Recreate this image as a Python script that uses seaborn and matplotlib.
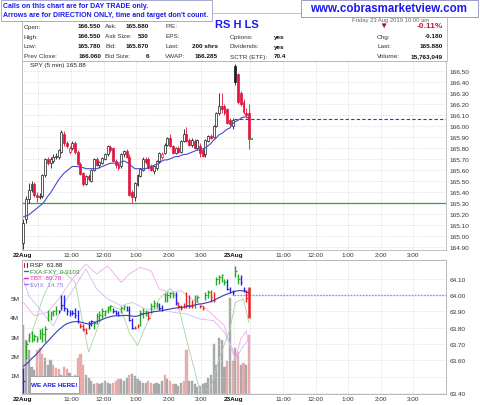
import numpy as np
import pandas as pd
import seaborn as sns
import matplotlib.pyplot as plt
from matplotlib.patches import Rectangle

sns.set_style("white")
plt.rcParams['font.family'] = ['Liberation Sans', 'DejaVu Sans']

# SPY 5 min candles: 22 Aug full session (78 bars) + first 6 bars of 23 Aug
spy_open = [164.93, 165.15, 165.33, 165.42, 165.47, 165.37, 165.35, 165.36, 165.55, 165.70,
            165.66, 165.68, 165.72, 165.72, 165.76, 165.93, 165.84, 165.76, 165.80, 165.84,
            165.76, 165.65, 165.57, 165.47, 165.54, 165.50, 165.60, 165.70, 165.64, 165.66,
            165.70, 165.74, 165.81, 165.80, 165.68, 165.65, 165.63, 165.74, 165.77, 165.72,
            165.40, 165.35, 165.46, 165.54, 165.60, 165.70, 165.70, 165.63, 165.59, 165.62,
            165.68, 165.72, 165.75, 165.83, 165.89, 165.82, 165.75, 165.80, 165.76, 165.86,
            165.93, 165.87, 165.83, 165.86, 165.80, 165.82, 165.78, 165.74, 165.86, 165.91,
            165.90, 166.00, 166.12, 166.18, 166.18, 166.15, 166.05, 166.00,
            166.54, 166.47, 166.30, 166.22, 166.12, 166.12]
spy_high = [165.15, 165.36, 165.48, 165.50, 165.49, 165.40, 165.39, 165.56, 165.71, 165.72,
            165.72, 165.74, 165.75, 165.79, 165.96, 165.95, 165.86, 165.82, 165.86, 165.86,
            165.78, 165.67, 165.58, 165.55, 165.56, 165.61, 165.71, 165.72, 165.68, 165.72,
            165.75, 165.83, 165.83, 165.81, 165.70, 165.66, 165.75, 165.78, 165.79, 165.74,
            165.42, 165.49, 165.56, 165.62, 165.72, 165.72, 165.72, 165.65, 165.64, 165.69,
            165.76, 165.76, 165.84, 165.90, 165.93, 165.83, 165.81, 165.82, 165.87, 165.97,
            165.99, 165.89, 165.89, 165.88, 165.88, 165.84, 165.80, 165.88, 165.92, 165.93,
            166.01, 166.13, 166.30, 166.30, 166.20, 166.16, 166.07, 166.07,
            166.56, 166.48, 166.32, 166.24, 166.16, 166.20]
spy_low = [164.88, 165.12, 165.30, 165.40, 165.35, 165.31, 165.33, 165.34, 165.53, 165.64,
           165.62, 165.66, 165.70, 165.70, 165.75, 165.82, 165.80, 165.74, 165.78, 165.74,
           165.64, 165.55, 165.45, 165.46, 165.50, 165.49, 165.59, 165.63, 165.62, 165.65,
           165.69, 165.73, 165.76, 165.67, 165.62, 165.60, 165.62, 165.72, 165.71, 165.36,
           165.30, 165.32, 165.45, 165.53, 165.59, 165.65, 165.61, 165.59, 165.56, 165.60,
           165.66, 165.70, 165.74, 165.82, 165.81, 165.74, 165.74, 165.75, 165.75, 165.85,
           165.85, 165.82, 165.81, 165.79, 165.78, 165.72, 165.72, 165.72, 165.85, 165.88,
           165.89, 165.99, 166.10, 166.12, 166.10, 166.02, 165.99, 165.97,
           166.37, 166.20, 166.18, 166.11, 166.07, 165.79]
spy_close = [165.12, 165.33, 165.42, 165.47, 165.37, 165.35, 165.36, 165.55, 165.70, 165.66,
             165.70, 165.72, 165.73, 165.78, 165.94, 165.84, 165.82, 165.80, 165.84, 165.76,
             165.65, 165.56, 165.47, 165.54, 165.52, 165.60, 165.70, 165.64, 165.67, 165.71,
             165.74, 165.82, 165.78, 165.68, 165.64, 165.62, 165.74, 165.77, 165.72, 165.37,
             165.35, 165.48, 165.55, 165.61, 165.70, 165.67, 165.62, 165.60, 165.63, 165.68,
             165.75, 165.74, 165.83, 165.89, 165.82, 165.75, 165.80, 165.76, 165.86, 165.93,
             165.86, 165.83, 165.87, 165.80, 165.87, 165.75, 165.73, 165.87, 165.91, 165.89,
             166.00, 166.12, 166.18, 166.15, 166.12, 166.03, 166.02, 166.05,
             166.40, 166.22, 166.20, 166.13, 166.10, 165.88]
spy_ma = [165.17, 165.18, 165.19, 165.21, 165.23, 165.25, 165.27, 165.29, 165.32, 165.36,
          165.39, 165.43, 165.47, 165.51, 165.54, 165.57, 165.59, 165.61, 165.63, 165.63,
          165.63, 165.62, 165.62, 165.61, 165.61, 165.61, 165.61, 165.61, 165.62, 165.63,
          165.64, 165.65, 165.66, 165.66, 165.66, 165.66, 165.67, 165.68, 165.67, 165.65,
          165.63, 165.61, 165.61, 165.61, 165.61, 165.61, 165.62, 165.63, 165.64, 165.65,
          165.66, 165.68, 165.69, 165.69, 165.70, 165.71, 165.72, 165.72, 165.73, 165.74,
          165.74, 165.75, 165.76, 165.77, 165.78, 165.78, 165.79, 165.80, 165.82, 165.84,
          165.87, 165.89, 165.92, 165.93, 165.95, 165.97, 165.98, 166.02,
          166.04, 166.05, 166.07, 166.08, 166.08, 166.07]
spy_support = 165.30
spy_prev_close = 166.06
spy_last = 165.88

# RSP HLC bars, impulse colour codes, moving average
rsp_high = [63.55, 63.72, 63.77, 63.78, 63.76, 63.75, 63.79, 63.80, 63.81, 63.91,
            63.90, 63.91, 63.93, 63.91, 64.00, 64.00, 63.92, 63.91, 63.91, 63.92,
            63.91, 63.83, 63.82, 63.80, 63.84, 63.85, 63.84, 63.89, 63.90, 63.92,
            63.91, 63.93, 63.94, 63.92, 63.91, 63.90, 63.93, 63.94, 63.93, 63.93,
            63.86, 63.81, 63.82, 63.91, 63.92, 63.91, 63.90, 63.95, 63.97, 63.96,
            63.95, 63.94, 64.01, 64.02, 64.02, 64.02, 64.02, 63.96, 63.94, 63.95,
            64.02, 64.00, 63.97, 64.00, 64.00, 63.94, 63.93, 64.02, 64.03, 64.03,
            64.02, 64.11, 64.12, 64.13, 64.10, 64.10, 64.05, 64.03,
            64.18, 64.13, 64.12, 64.05, 64.03, 64.05]
rsp_low = [63.40, 63.61, 63.71, 63.71, 63.72, 63.71, 63.73, 63.71, 63.71, 63.84,
           63.85, 63.87, 63.88, 63.89, 63.91, 63.90, 63.88, 63.87, 63.88, 63.86,
           63.83, 63.80, 63.78, 63.76, 63.79, 63.81, 63.79, 63.82, 63.84, 63.86,
           63.87, 63.89, 63.90, 63.89, 63.88, 63.87, 63.89, 63.91, 63.90, 63.84,
           63.79, 63.79, 63.80, 63.81, 63.86, 63.87, 63.85, 63.89, 63.92, 63.92,
           63.91, 63.90, 63.96, 63.96, 63.98, 63.98, 63.94, 63.92, 63.91, 63.92,
           63.92, 63.92, 63.92, 63.92, 63.96, 63.92, 63.91, 63.97, 63.98, 63.96,
           63.96, 64.06, 64.07, 64.08, 64.06, 64.03, 64.01, 64.00,
           64.11, 64.07, 64.06, 64.02, 63.96, 63.86]
rsp_close = [63.47, 63.70, 63.74, 63.73, 63.75, 63.73, 63.77, 63.76, 63.79, 63.88,
             63.89, 63.90, 63.91, 63.90, 63.94, 63.92, 63.90, 63.89, 63.89, 63.88,
             63.84, 63.81, 63.79, 63.77, 63.82, 63.84, 63.83, 63.87, 63.88, 63.90,
             63.90, 63.92, 63.93, 63.90, 63.89, 63.88, 63.92, 63.93, 63.91, 63.85,
             63.80, 63.80, 63.81, 63.89, 63.90, 63.90, 63.86, 63.93, 63.95, 63.94,
             63.92, 63.91, 64.00, 64.00, 64.01, 64.00, 63.95, 63.93, 63.92, 63.93,
             63.94, 63.93, 63.93, 63.98, 63.99, 63.93, 63.92, 64.00, 64.02, 63.99,
             63.97, 64.10, 64.11, 64.12, 64.08, 64.04, 64.02, 64.02,
             64.15, 64.10, 64.08, 64.03, 63.98, 63.88]
rsp_impulse = list("bggggggggg" "gggbbbbbbb" "brrrbbgggg" "gggbbbggbb"
                   "brrgggrggg" "bbggggbrrr" "rrrggrrggr" "rggggbbb" "ggbbrr")
rsp_ma = [63.563, 63.575, 63.59, 63.61, 63.624, 63.64, 63.66, 63.68, 63.70, 63.716,
          63.735, 63.753, 63.77, 63.787, 63.80, 63.814, 63.824, 63.83, 63.835, 63.837,
          63.837, 63.835, 63.83, 63.826, 63.822, 63.824, 63.83, 63.837, 63.843, 63.85,
          63.857, 63.863, 63.867, 63.871, 63.873, 63.873, 63.873, 63.875, 63.875, 63.873,
          63.871, 63.869, 63.871, 63.877, 63.884, 63.888, 63.89, 63.894, 63.898, 63.90,
          63.902, 63.904, 63.908, 63.912, 63.914, 63.918, 63.92, 63.922, 63.924, 63.926,
          63.93, 63.932, 63.934, 63.939, 63.943, 63.945, 63.947, 63.951, 63.955, 63.961,
          63.967, 63.976, 63.984, 63.992, 64.00, 64.006, 64.012, 64.019,
          64.023, 64.027, 64.027, 64.025, 64.021, 64.012]
rsp_prev_close = 64.00

# RSP volume in millions, u = up bar (grey), d = down bar (pink)
volume_m = [3.6, 2.8, 2.3, 1.4, 1.25, 2.3, 2.4, 2.1, 1.9, 1.5,
            1.8, 1.5, 1.35, 1.3, 1.0, 1.4, 1.3, 1.1, 0.85, 1.0,
            1.9, 2.1, 1.5, 1.0, 0.85, 0.7, 0.5, 0.6, 0.5, 0.6,
            0.7, 0.6, 0.5, 0.6, 0.7, 0.8, 0.8, 0.7, 0.85, 1.0,
            1.05, 0.95, 0.8, 0.7, 0.6, 0.6, 0.7, 0.6, 0.5, 0.6,
            0.5, 0.7, 1.0, 0.8, 0.7, 0.5, 0.5, 0.4, 0.6, 0.7,
            2.3, 0.7, 0.7, 0.5, 0.35, 0.4, 0.5, 0.6, 0.85, 1.0,
            2.6, 1.5, 2.9, 2.8, 1.4, 1.7, 5.0, 1.7,
            2.4, 2.2, 1.5, 1.6, 1.5, 3.1]
volume_dir = list("uuuuuddduu" "uddduddudd" "ddduuuuduu" "uuuddduuud"
                  "uuuuuudduu" "uududduuud" "duuuuuuuuu" "uuuuudud" "ududud")

# comparison overlays, read on the RSP price scale
fxa_bar = [1, 4, 7, 11, 15, 19, 24, 28, 32, 36, 39, 42, 45, 50, 54, 56, 60, 65, 69, 72, 76, 78, 81, 83]
fxa_val = [63.69, 63.81, 63.976, 64.12, 64.14, 64.08, 63.65, 63.83, 63.935, 63.91, 63.77, 63.69,
           63.81, 63.976, 64.04, 64.0, 63.73, 63.41, 63.43, 63.61, 63.79, 63.955, 63.976, 63.83]
tbt_bar = [0, 4, 9, 13, 18, 23, 27, 31, 36, 39, 43, 47, 50, 54, 58, 61, 66, 70, 74, 76, 78, 80, 82, 83]
tbt_val = [63.955, 63.873, 63.894, 63.976, 64.098, 64.19, 64.129, 64.18, 64.078, 64.129, 64.17, 64.149,
           64.037, 64.016, 64.027, 63.986, 63.935, 63.873, 63.812, 63.689, 63.607, 63.73, 63.781, 63.689]
vix_bar = [0, 2, 6, 11, 16, 20, 23, 27, 31, 36, 40, 45, 50, 55, 60, 65, 70, 74, 77, 78, 81, 83]
vix_val = [64.098, 63.996, 63.914, 63.812, 63.976, 64.078, 64.16, 64.037, 63.976, 63.935, 63.955, 63.914,
           63.914, 63.894, 63.884, 63.853, 63.843, 63.771, 63.669, 63.607, 63.689, 63.73]

tick_day = [0, 0, 0, 0, 0, 0, 1, 1, 1, 1, 1, 1]
tick_hour = [9.5, 11, 12, 13, 14, 15, 9.5, 11, 12, 13, 14, 15]
tick_labels = ['22Aug', '11:00', '12:00', '1:00', '2:00', '3:00',
               '23Aug', '11:00', '12:00', '1:00', '2:00', '3:00']
grid_day = tick_day + [0, 1]
grid_hour = tick_hour + [10, 10]

BARS_PER_DAY = 78
def bar_pos(day, hour):
    return day * BARS_PER_DAY + (hour - 9.5) * 12 - 0.5

bars = np.arange(len(spy_close))
tick_x = [bar_pos(d, h) for d, h in zip(tick_day, tick_hour)]
grid_x = [bar_pos(d, h) for d, h in zip(grid_day, grid_hour)]

W, H = 480, 406
fig = plt.figure(figsize=(W / 100, H / 100), dpi=100)

def px_box(l, t, r, b):
    return [l / W, 1 - b / H, (r - l) / W, (b - t) / H]

BLACK = '#1a1a1a'
RED = '#e0143c'
GRID = '#d4d4d4'
FS = 4.6

ax1 = fig.add_axes(px_box(22, 62, 446, 251))
axv = fig.add_axes(px_box(22, 261, 446, 395))
axp = axv.twinx()

# ---- top panel: SPY candles ----
prev = [spy_close[0]] + spy_close[:-1]
for i in bars:
    o, h, l, c = spy_open[i], spy_high[i], spy_low[i], spy_close[i]
    col = RED if c < prev[i] else BLACK
    ax1.vlines(i, l, h, color=col, lw=0.6, zorder=3)
    ax1.bar(i, max(abs(c - o), 0.008), bottom=min(o, c), width=0.72,
            facecolor='white' if c > o else col, edgecolor=col, lw=0.5, zorder=4)

sns.lineplot(x=bars, y=spy_ma, ax=ax1, color='#4a4acc', lw=0.8, zorder=5)
ax1.axhline(spy_support, color='#3f9f3f', lw=0.9, zorder=2)
ax1.hlines(spy_prev_close, tick_x[6], 155.5, color='#2f2fff', lw=0.8, ls=(0, (3, 2)), zorder=2)
ax1.plot([bars[-1] + 0.6], [spy_last], marker='_', ms=3, mew=1.2, color='#22aa22', zorder=6)

ax1.set_xlim(-0.5, 155.5)
ax1.set_ylim(164.87, 166.59)
ax1.yaxis.tick_right()
yt = np.round(np.arange(164.9, 166.51, 0.1), 2)
ax1.set_yticks(yt)
ax1.set_yticklabels([f'{v:.2f}' for v in yt])
ax1.set_xticks(tick_x)
ax1.set_xticklabels(tick_labels)
ax1.set_xlabel('')
ax1.set_ylabel('')
ax1.text(0.018, 0.995, 'SPY (5 min) 165.88', transform=ax1.transAxes, fontsize=FS,
         va='top', ha='left', color='#222222')

# ---- bottom panel: RSP, volume, overlays ----
vcols = ['#a9a9a9' if d == 'u' else '#e9aaaa' for d in volume_dir]
axv.bar(bars, volume_m, width=0.8, color=vcols, edgecolor=vcols, lw=0.3, zorder=1)
axv.set_ylim(0, 7.0)
axv.set_yticks([1, 2, 3, 4, 5])
axv.set_yticklabels(['1M', '2M', '3M', '4M', '5M'])

sns.lineplot(x=fxa_bar, y=fxa_val, ax=axp, color='#a6d4a6', lw=0.6, zorder=2)
sns.lineplot(x=tbt_bar, y=tbt_val, ax=axp, color='#f2a8ee', lw=0.6, zorder=2)
sns.lineplot(x=vix_bar, y=vix_val, ax=axp, color='#cbbdf4', lw=0.6, zorder=2)

imp_col = {'g': '#22aa22', 'b': '#2323ee', 'r': '#ee2222'}
for i in bars:
    col = imp_col[rsp_impulse[i]]
    lw = 1.8 if i == bars[-1] else 1.0
    axp.vlines(i, rsp_low[i], rsp_high[i], color=col, lw=lw, zorder=4)
    axp.hlines(rsp_close[i], i, i + 0.55, color=col, lw=0.8, zorder=4)

sns.lineplot(x=bars, y=rsp_ma, ax=axp, color='#3a3ab8', lw=0.8, zorder=5)
axp.hlines(rsp_prev_close, tick_x[6], 155.5, color='#8c8cff', lw=1.0, ls=(0, (1.2, 1.0)), zorder=3)

axp.set_xlim(-0.5, 155.5)
axp.set_ylim(63.393, 64.215)
pt = [63.4, 63.5, 63.6, 63.7, 63.8, 63.9, 64.0, 64.1]
axp.set_yticks(pt)
axp.set_yticklabels(['63.40', '', '63.60', '63.70', '63.80', '63.90', '64.00', '64.10'])
axv.set_xticks(tick_x)
axv.set_xticklabels(tick_labels)
for a in (axv, axp):
    a.set_xlabel('')
    a.set_ylabel('')

# shared styling
for a in (ax1, axv, axp):
    for s in a.spines.values():
        s.set_color('#b8b8b8')
        s.set_linewidth(0.6)
    a.tick_params(labelsize=FS, length=0, pad=1.5, colors='#333333')
for a in (ax1, axv):
    for lab in a.get_xticklabels():
        if 'Aug' in lab.get_text():
            lab.set_fontweight('bold')
            lab.set_color('#111111')
axv.tick_params(axis='y', pad=2)
axp.tick_params(axis='y', pad=2.5)
ax1.tick_params(axis='y', pad=2.5)

for a, ys in ((ax1, yt), (axp, pt)):
    for gx in grid_x:
        a.axvline(gx, color=GRID, lw=0.5, ls=(0, (1, 1.2)), zorder=0)
    for gy in ys:
        a.axhline(gy, color=GRID, lw=0.5, ls=(0, (1, 1.2)), zorder=0)

# ---- overlay with header, notes and legends (pixel coords) ----
ov = fig.add_axes([0, 0, 1, 1], zorder=10)
ov.set_xlim(0, W)
ov.set_ylim(H, 0)
ov.axis('off')

ov.add_patch(Rectangle((22, 14), 425, 48, fill=False, ec='#b8b8b8', lw=0.6))
ov.text(352, 20.5, 'Friday 23 Aug 2019 10:00 am', fontsize=4.2, color='#666666', va='center')

rows = [27, 37, 47, 57]
col1 = [('Open:', '166.550'), ('High:', '166.550'), ('Low:', '165.780'), ('Prev Close:', '166.060')]
col2 = [('Ask:', '165.880'), ('Ask Size:', '530'), ('Bid:', '165.870'), ('Bid Size:', '6')]
col3 = [('P/E:', ''), ('EPS:', ''), ('Last:', '200 shrs'), ('VWAP:', '166.285')]
for (lx, vx, items) in ((24, 101, col1), (105, 149, col2), (165, 218, col3)):
    for y, (lab, val) in zip(rows, items):
        ov.text(lx, y, lab, fontsize=FS, va='center', ha='left', color='#333333')
        ov.text(vx, y, val, fontsize=FS, va='center', ha='right', fontweight='bold', color='#111111')
for y, (lab, val) in zip(rows[1:], [('Options:', 'yes'), ('Dividends:', 'yes'), ('SCTR (ETF):', '70.4')]):
    ov.text(230, y, lab, fontsize=FS, va='center', ha='left', color='#333333')
    ov.text(274, y, val, fontsize=FS, va='center', ha='left', fontweight='bold', color='#111111')
for y, (lab, val) in zip(rows[1:], [('Chg:', '-0.180'), ('Last:', '165.880'), ('Volume:', '15,763,049')]):
    ov.text(377, y, lab, fontsize=FS, va='center', ha='left', color='#333333')
    ov.text(443, y, val, fontsize=FS, va='center', ha='right', fontweight='bold', color='#111111')
ov.text(443, 27, '-0.11%', fontsize=6, va='center', ha='right', fontweight='bold', color='#c0183c')
ov.text(383, 26.5, '\u25bc', fontsize=6, va='center', ha='center', color='#a0102c')
ov.text(236.5, 25.5, 'RS H LS', fontsize=8, va='center', ha='center', fontweight='bold', color='#1a1aee')

ov.add_patch(Rectangle((0.5, 0.5), 211, 21.5, fc='white', ec='#9c9cc8', lw=0.6))
ov.text(3, 6.5, 'Calls on this chart are for DAY TRADE only.', fontsize=5.0,
        fontweight='bold', color='#1a1aee', va='center')
ov.text(3, 15.5, "Arrows are for DIRECTION ONLY, time and target don't count.", fontsize=5.0,
        fontweight='bold', color='#1a1aee', va='center')

ov.add_patch(Rectangle((300.5, 0.5), 177, 17, fc='white', ec='#8c8cc0', lw=0.6))
ov.text(389, 9, 'www.cobrasmarketview.com', fontsize=8.3, fontweight='bold',
        color='#1a1aee', va='center', ha='center')

legend = [('RSP  63.88', BLACK), ('FXA:FXY  0.9103', '#2a8a2a'),
          ('TBT  80.78', '#ee22cc'), ('$VIX  14.75', '#9272ea')]
for k, (txt, c) in enumerate(legend):
    y = 266 + k * 6.3
    if k == 0:
        ov.plot([24, 24], [y - 2, y + 2], color=RED, lw=0.8)
        ov.plot([26.5, 26.5], [y - 2.5, y + 1.5], color='#2323ee', lw=0.8)
    else:
        ov.plot([23.5, 28], [y, y], color=c, lw=1.0)
    ov.text(30, y, txt, fontsize=FS, color=c, va='center', ha='left')

ov.add_patch(Rectangle((30, 377), 49, 17, fc='white', ec='#9a9a9a', lw=0.6))
ov.text(54.5, 385.5, 'WE ARE HERE!', fontsize=4.6, fontweight='bold', color='#1f1fe6',
        va='center', ha='center')

fig.savefig('out.png', dpi=100)
